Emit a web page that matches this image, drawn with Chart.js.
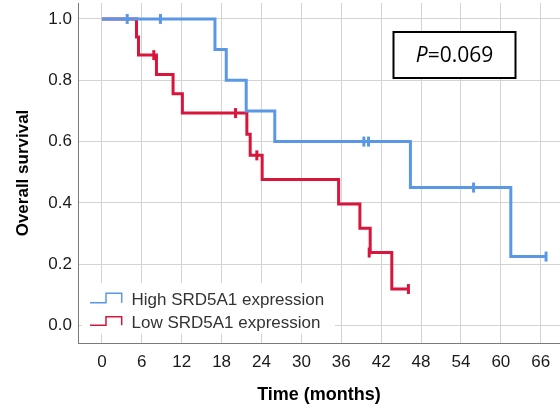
<!DOCTYPE html>
<html><head><meta charset="utf-8">
<script src="https://cdn.jsdelivr.net/npm/chart.js@4"></script>
<style>html,body{margin:0;padding:0;background:#fff}canvas{display:block}</style>
</head><body>
<canvas id="c" width="560" height="409"></canvas>
<script>
// ---- data ----
const xTicks = [0, 6, 12, 18, 24, 30, 36, 42, 48, 54, 60, 66];
const yTicks = [0.0, 0.2, 0.4, 0.6, 0.8, 1.0];
const seriesLabels = ['High SRD5A1 expression', 'Low SRD5A1 expression'];

const highTimes = [0, 17.0, 18.7, 21.7, 26.0, 46.4, 61.5, 66.8];
const highSurv  = [1.0, 0.9, 0.8, 0.7, 0.6, 0.45, 0.225, 0.225];
const highCensorTimes = [3.8, 8.8, 39.4, 40.1, 55.9, 66.8];
const highCensorSurv  = [1.0, 1.0, 0.6, 0.6, 0.45, 0.225];

const lowTimes = [0, 5.2, 5.5, 8.2, 10.7, 12.1, 21.8, 22.3, 24.1, 35.6, 38.8, 40.35, 43.6, 46.1];
const lowSurv  = [1.0, 0.941, 0.882, 0.819, 0.756, 0.693, 0.624, 0.555, 0.476, 0.396, 0.317, 0.238, 0.119, 0.119];
const lowCensorTimes = [7.8, 20.1, 23.3, 40.2, 46.1];
const lowCensorSurv  = [0.882, 0.693, 0.555, 0.238, 0.119];

const pValueText = '=0.069';

// ---- styles ----
const BLUE = '#5a98e6';
const RED = '#d8163c';
const GRID = '#d3d3d3';
const AXIS = '#7a7a7a';
const FONT = "'Liberation Sans', Arial, sans-serif";

const pts = (xs, ys) => xs.map((x, i) => ({x: x, y: ys[i]}));

const overlayPlugin = {
  id: 'overlay',
  afterDraw(chart) {
    const ctx = chart.ctx;
    ctx.save();
    // legend box (inside plot)
    ctx.fillStyle = '#ffffff';
    ctx.fillRect(82, 283, 253, 51);
    const items = [
      {color: chart.data.datasets[0].borderColor, label: chart.data.datasets[0].label, base: 302.7, top: 293.3, ty: 300.5},
      {color: chart.data.datasets[1].borderColor, label: chart.data.datasets[1].label, base: 325.3, top: 316.7, ty: 323.7}
    ];
    items.forEach(it => {
      ctx.strokeStyle = it.color;
      ctx.lineWidth = 1.5;
      ctx.beginPath();
      ctx.moveTo(90, it.base);
      ctx.lineTo(106, it.base);
      ctx.lineTo(106, it.top);
      ctx.lineTo(121.7, it.top);
      ctx.lineTo(121.7, it.base);
      ctx.stroke();
      ctx.fillStyle = '#333333';
      ctx.font = '17px ' + FONT;
      ctx.textAlign = 'left';
      ctx.textBaseline = 'middle';
      ctx.fillText(it.label, 131.5, it.ty);
    });
    // P value box
    ctx.fillStyle = '#ffffff';
    ctx.fillRect(393.5, 32, 122, 46);
    ctx.strokeStyle = '#000000';
    ctx.lineWidth = 2;
    ctx.strokeRect(393.5, 32, 122, 46);
    ctx.fillStyle = '#000000';
    ctx.textBaseline = 'middle';
    ctx.textAlign = 'left';
    const fItal = "italic 21px 'Open Sans', sans-serif";
    const fReg = "21px 'Open Sans', sans-serif";
    ctx.font = fItal; const wP = ctx.measureText('P').width;
    ctx.font = fReg; const wR = ctx.measureText(pValueText).width;
    const x0 = 454.5 - (wP + wR) / 2;
    ctx.font = fItal; ctx.fillText('P', x0, 56);
    ctx.font = fReg; ctx.fillText(pValueText, x0 + wP, 56);
    ctx.restore();
  }
};

new Chart(document.getElementById('c'), {
  type: 'line',
  data: {
    datasets: [
      {label: seriesLabels[0], data: pts(highTimes, highSurv), borderColor: BLUE, borderWidth: 3, stepped: 'before', pointRadius: 0, fill: false, order: 2},
      {label: seriesLabels[1], data: pts(lowTimes, lowSurv), borderColor: RED, borderWidth: 3, stepped: 'before', pointRadius: 0, fill: false, order: 3},
      {type: 'scatter', label: 'high censored', data: pts(highCensorTimes, highCensorSurv), borderColor: BLUE, backgroundColor: BLUE, pointStyle: 'line', rotation: 90, pointRadius: 5, borderWidth: 3, order: 0},
      {type: 'scatter', label: 'low censored', data: pts(lowCensorTimes, lowCensorSurv), borderColor: RED, backgroundColor: RED, pointStyle: 'line', rotation: 90, pointRadius: 5, borderWidth: 3, order: 1}
    ]
  },
  options: {
    responsive: false,
    animation: false,
    devicePixelRatio: 1,
    layout: {autoPadding: false, padding: {top: 3, right: 0, left: 0, bottom: 0}},
    plugins: {legend: {display: false}, tooltip: {enabled: false}},
    scales: {
      x: {
        type: 'linear', min: -3.6, max: 68.9,
        afterBuildTicks: ax => { ax.ticks = xTicks.map(v => ({value: v})); },
        afterFit: ax => { ax.height = 66; ax.paddingLeft = 0; ax.paddingRight = 0; ax.paddingTop = 0; ax.paddingBottom = 0; },
        grid: {color: GRID, lineWidth: 1, drawTicks: false},
        border: {color: AXIS, width: 1},
        ticks: {color: '#1a1a1a', font: {family: FONT, size: 17}, padding: 9, maxRotation: 0, autoSkip: false},
        title: {display: true, text: 'Time (months)', color: '#000', font: {family: FONT, size: 18, weight: 'bold'}, padding: {top: 0, bottom: 3}}
      },
      y: {
        type: 'linear', min: -0.057, max: 1.052,
        afterBuildTicks: ax => { ax.ticks = yTicks.map(v => ({value: v})); },
        afterFit: ax => { ax.width = 78; ax.paddingLeft = 0; ax.paddingRight = 0; ax.paddingTop = 0; ax.paddingBottom = 0; },
        grid: {color: GRID, lineWidth: 1, drawTicks: false},
        border: {color: AXIS, width: 1},
        ticks: {color: '#1a1a1a', font: {family: FONT, size: 17}, padding: 6, callback: v => v.toFixed(1)},
        title: {display: true, text: 'Overall survival', color: '#000', font: {family: FONT, size: 17, weight: 'bold'}, padding: {top: 13, bottom: 0}}
      }
    }
  },
  plugins: [overlayPlugin]
});
</script>
</body></html>
